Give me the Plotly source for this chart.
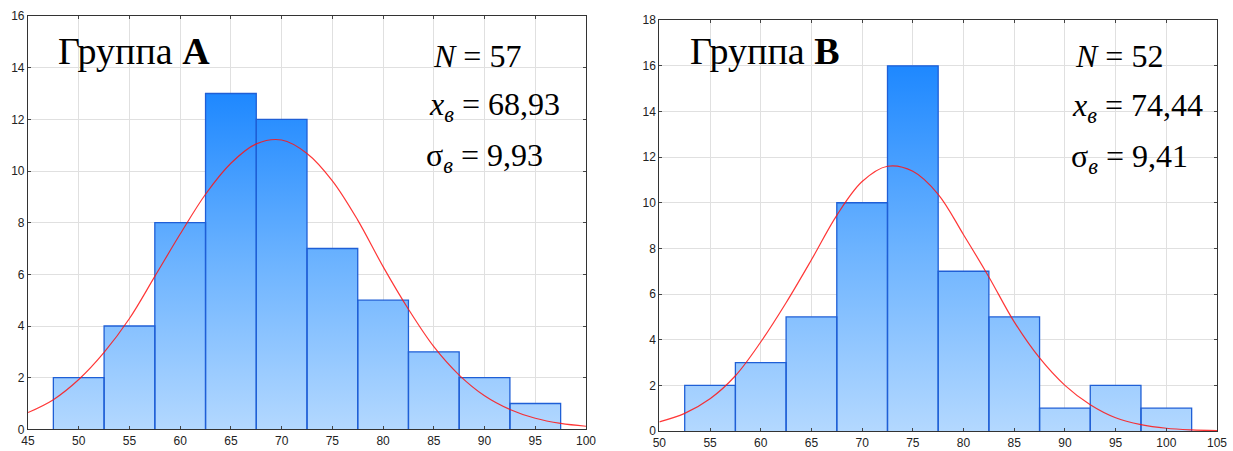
import plotly.graph_objects as go
from plotly.subplots import make_subplots

# ---------------- data ----------------
bin_width = 5
a_bin_centers = [50, 55, 60, 65, 70, 75, 80, 85, 90, 95]
a_counts = [2, 4, 8, 13, 12, 7, 5, 3, 2, 1]
b_bin_centers = [55, 60, 65, 70, 75, 80, 85, 90, 95, 100]
b_counts = [2, 3, 5, 10, 16, 7, 5, 1, 2, 1]

# fitted normal curves
a_curve_x = [45, 47.5, 50, 52.5, 55, 57.5, 60, 62.5, 65, 67.5, 70, 72.5, 75, 77.5,
             80, 82.5, 85, 87.5, 90, 92.5, 95, 97.5, 100]
a_curve_y = [0.65, 1.15, 1.93, 2.98, 4.29, 5.92, 7.56, 9.1, 10.3, 11.05, 11.2, 10.68,
             9.62, 8.1, 6.3, 4.65, 3.2, 2.1, 1.3, 0.77, 0.43, 0.23, 0.12]
b_curve_x = [50, 52.5, 55, 57.5, 60, 62.5, 65, 67.5, 70, 72.5, 75, 77.5, 80, 82.5,
             85, 87.5, 90, 92.5, 95, 97.5, 100, 102.5, 105]
b_curve_y = [0.4, 0.77, 1.41, 2.42, 3.9, 5.62, 7.5, 9.45, 10.93, 11.6, 11.38, 10.37,
             8.6, 6.75, 4.78, 3.2, 2.0, 1.15, 0.58, 0.28, 0.12, 0.05, 0.02]

a_x_ticks = list(range(45, 101, 5))
a_y_ticks = list(range(0, 17, 2))
b_x_ticks = list(range(50, 106, 5))
b_y_ticks = list(range(0, 19, 2))

a_title = "Группа <b>A</b>"
b_title = "Группа <b>B</b>"
a_stats = ["<i>N</i> = 57", "<i>x</i><sub><i>в</i></sub> = 68,93", "σ<sub><i>в</i></sub> = 9,93"]
b_stats = ["<i>N</i> = 52", "<i>x</i><sub><i>в</i></sub> = 74,44", "σ<sub><i>в</i></sub> = 9,41"]

# ---------------- figure ----------------
fig = make_subplots(rows=1, cols=2)

bar_edge = "#1F5FD6"
light = "#B3D8FF"
dark = "#1E88FF"


def add_hist(col, centers, counts, cx, cy):
    edges = [c - bin_width / 2 for c in centers] + [centers[-1] + bin_width / 2]
    step_y = counts + [counts[-1]]
    # gradient-filled histogram area
    fig.add_trace(go.Scatter(
        x=edges, y=step_y, mode="lines", line=dict(width=0, shape="hv"),
        fill="tozeroy",
        fillgradient=dict(type="vertical",
                          colorscale=[[0, light], [0.5, "#6CB3FF"], [1, dark]],
                          start=0, stop=max(counts)),
        hoverinfo="skip", showlegend=False), row=1, col=col)
    # bar outlines (built from the bins)
    ox, oy = [], []
    for c, h in zip(centers, counts):
        l, r = c - bin_width / 2, c + bin_width / 2
        ox += [l, l, r, r, None]
        oy += [0, h, h, 0, None]
    fig.add_trace(go.Scatter(
        x=ox, y=oy, mode="lines", line=dict(color=bar_edge, width=1.3),
        hoverinfo="skip", showlegend=False), row=1, col=col)
    # normal curve
    fig.add_trace(go.Scatter(
        x=cx, y=cy, mode="lines",
        line=dict(color="rgba(255,20,20,0.85)", width=1.2, shape="spline"),
        hoverinfo="skip", showlegend=False), row=1, col=col)


add_hist(1, a_bin_centers, a_counts, a_curve_x, a_curve_y)
add_hist(2, b_bin_centers, b_counts, b_curve_x, b_curve_y)

axis_common = dict(showgrid=True, gridcolor="#E0E0E0", gridwidth=1, automargin=False,
                   zeroline=False, showline=True, linecolor="#333333", linewidth=1.2,
                   mirror="ticks", ticks="inside", ticklen=3, tickcolor="#444444",
                   tickfont=dict(family="Liberation Sans, Arial", size=12, color="#222222"))

fig.update_xaxes(axis_common)
fig.update_yaxes(axis_common)

fig.update_xaxes(range=[45, 100], tickvals=a_x_ticks, domain=[0, 0.4693], row=1, col=1)
fig.update_yaxes(range=[0, 16], tickvals=a_y_ticks, domain=[0.004, 1.0], row=1, col=1)
fig.update_xaxes(range=[50, 105], tickvals=b_x_ticks, domain=[0.531, 1.0], row=1, col=2)
fig.update_yaxes(range=[0, 18], tickvals=b_y_ticks, domain=[0.0, 0.990], row=1, col=2)

serif = "Liberation Serif, Times New Roman, serif"

# titles
fig.add_annotation(x=0.05, y=0.915, xref="x domain", yref="y domain", text=a_title,
                   showarrow=False, xanchor="left", yanchor="middle",
                   font=dict(family=serif, size=38, color="black"))
fig.add_annotation(x=0.052, y=0.925, xref="x2 domain", yref="y2 domain", text=b_title,
                   showarrow=False, xanchor="left", yanchor="middle",
                   font=dict(family=serif, size=38, color="black"))

a_stat_y = [0.903, 0.780, 0.657]
b_stat_y = [0.913, 0.788, 0.664]
a_stat_x = [0.722, 0.715, 0.71]
b_stat_x = [0.741, 0.736, 0.734]
for t, yy, xx in zip(a_stats, a_stat_y, a_stat_x):
    fig.add_annotation(x=xx, y=yy, xref="x domain", yref="y domain", text=t,
                       showarrow=False, xanchor="left", yanchor="middle",
                       font=dict(family=serif, size=32, color="black"))
for t, yy, xx in zip(b_stats, b_stat_y, b_stat_x):
    fig.add_annotation(x=xx, y=yy, xref="x2 domain", yref="y2 domain", text=t,
                       showarrow=False, xanchor="left", yanchor="middle",
                       font=dict(family=serif, size=32, color="black"))

fig.update_layout(width=1233, height=451, margin=dict(l=28, r=16, t=16, b=20),
                  plot_bgcolor="white", paper_bgcolor="white",
                  showlegend=False)

fig.write_html("out.html",
               config={"displayModeBar": False},
               post_script="document.body.style.margin='0';"
                           "document.body.style.overflow='hidden';")
